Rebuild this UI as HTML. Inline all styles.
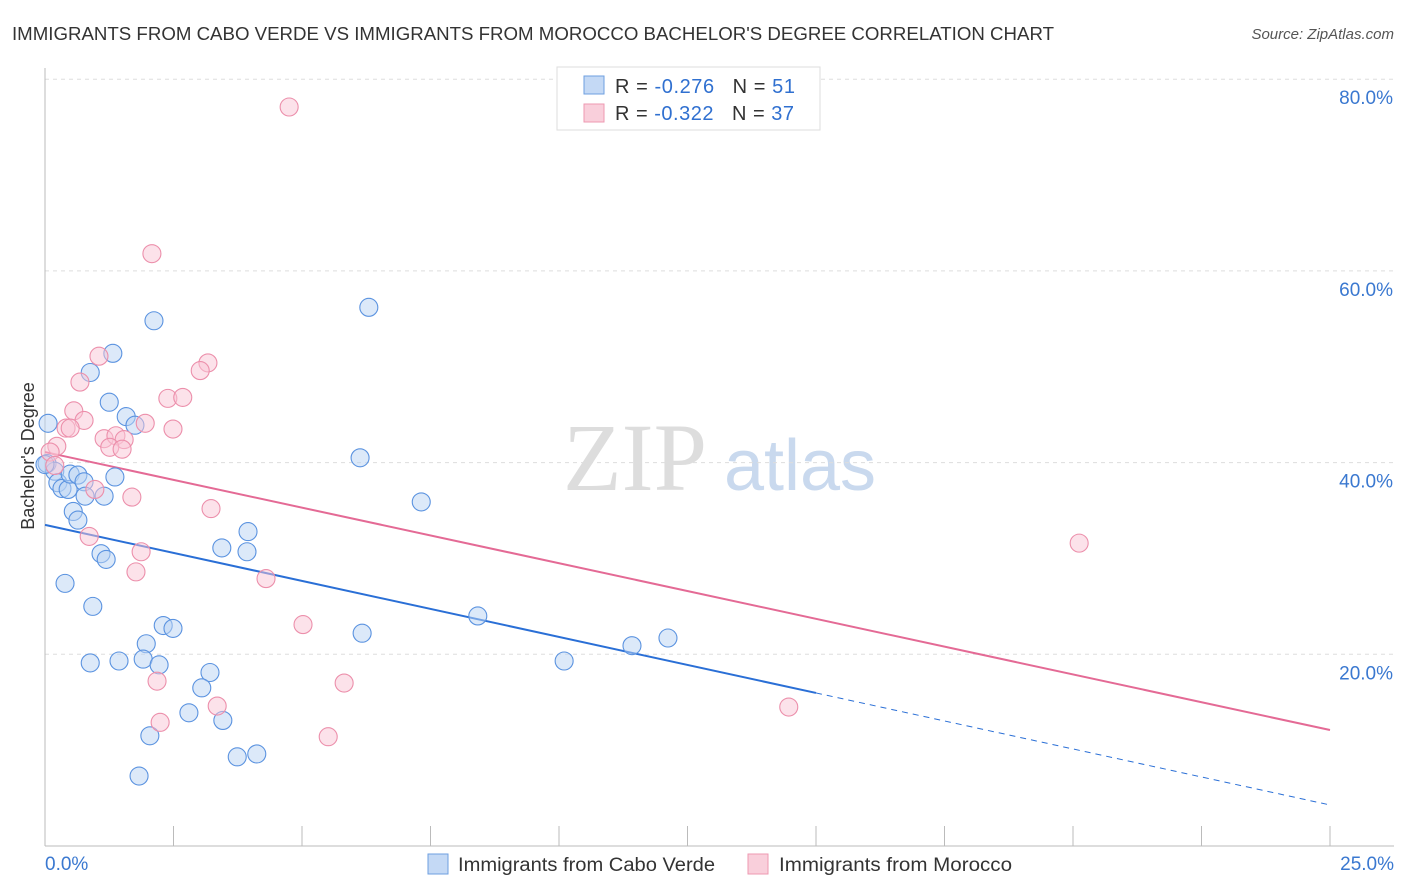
<!DOCTYPE html>
<html><head><meta charset="utf-8"><style>
body{margin:0;background:#fff;font-family:"Liberation Sans",sans-serif}
svg{display:block}
</style></head><body>
<svg width="1406" height="892">
<text x="12" y="40" font-size="18" fill="#333" textLength="1042" lengthAdjust="spacingAndGlyphs">IMMIGRANTS FROM CABO VERDE VS IMMIGRANTS FROM MOROCCO BACHELOR'S DEGREE CORRELATION CHART</text>
<text x="1394" y="39" font-size="15" fill="#555" font-style="italic" text-anchor="end">Source: ZipAtlas.com</text>
<g><text x="635" y="490" font-size="96" fill="#ddd" font-family="Liberation Serif" text-anchor="middle">ZIP</text><text x="800" y="490" font-size="72" fill="#c9d9ee" text-anchor="middle">atlas</text></g>
<g id="grid"></g><g id="axes"></g><g id="lines"></g><g id="pts"></g>
<text transform="translate(34,456) rotate(-90)" font-size="18" fill="#333" text-anchor="middle">Bachelor's Degree</text>
<g>
<rect x="557" y="67" width="263" height="63" fill="#fff" stroke="#ddd"/>
<rect x="584" y="76" width="20" height="18" fill="#c4d9f5" stroke="#6e9fe0"/>
<rect x="584" y="104" width="20" height="18" fill="#f9cfdb" stroke="#ee98b2"/>
<text x="615" y="93" font-size="20" fill="#333" textLength="180" lengthAdjust="spacing">R = <tspan fill="#3070d0">-0.276</tspan><tspan dx="18">N = </tspan><tspan fill="#3070d0">51</tspan></text>
<text x="615" y="120" font-size="20" fill="#333" textLength="179" lengthAdjust="spacing">R = <tspan fill="#3070d0">-0.322</tspan><tspan dx="18">N = </tspan><tspan fill="#3070d0">37</tspan></text>
</g>
<g>
<rect x="428" y="854" width="20" height="20" fill="#c4d9f5" stroke="#6e9fe0"/>
<text x="458" y="871" font-size="19" fill="#333" textLength="257" lengthAdjust="spacingAndGlyphs">Immigrants from Cabo Verde</text>
<rect x="748" y="854" width="20" height="20" fill="#f9cfdb" stroke="#ee98b2"/>
<text x="779" y="871" font-size="19" fill="#333" textLength="233" lengthAdjust="spacingAndGlyphs">Immigrants from Morocco</text>
</g>
</svg>
<script>
const xTicks=[0,2.5,5,7.5,10,12.5,15,17.5,20,22.5,25];
const yTicks=[20,40,60,80];
const blueX=[0.06,0.04,0.19,0.25,0.33,0.45,0.55,0.64,0.49,0.64,0.76,0.78,1.15,1.36,0.39,0.93,1.09,1.19,0.88,1.44,0.88,1.32,1.25,1.58,1.75,2.12,6.3,6.13,7.32,3.95,3.44,3.93,2.3,2.49,1.97,1.91,2.22,3.21,3.05,2.8,3.46,2.04,1.83,3.74,4.12,6.17,8.42,10.1,11.42,12.12,0];
const blueY=[44.1,39.9,39.1,37.9,37.3,37.2,34.9,34,38.8,38.7,38,36.5,36.5,38.5,27.4,25,30.5,29.9,19.1,19.3,49.4,51.4,46.3,44.8,43.9,54.8,56.2,40.5,35.9,32.8,31.1,30.7,23,22.7,21.1,19.5,18.9,18.1,16.5,13.9,13.1,11.5,7.3,9.3,9.6,22.2,24,19.3,20.9,21.7,39.8];
const pinkX=[4.75,2.08,1.05,3.17,3.02,0.68,0.56,0.76,2.39,2.68,0.41,0.49,1.95,2.49,1.15,1.38,1.54,1.26,1.5,0.23,0.1,0.19,0.97,1.69,3.23,0.86,1.87,1.77,4.3,5.02,2.18,5.82,3.35,2.24,5.51,20.12,14.47];
const pinkY=[77.1,61.8,51.1,50.4,49.6,48.4,45.4,44.4,46.7,46.8,43.6,43.6,44.1,43.5,42.5,42.8,42.4,41.6,41.4,41.7,41.1,39.7,37.2,36.4,35.2,32.3,30.7,28.6,27.9,23.1,17.2,17,14.6,12.9,11.4,31.6,14.5];
const blueTrend=[33.5,4.28], pinkTrend=[41.1,12.1], blueSolidEnd=15;
const NS="http://www.w3.org/2000/svg";
const X=v=>45+v/25*1285, Y=v=>846-v*9.585;
function mk(tag,at,parent){const e=document.createElementNS(NS,tag);for(const k in at)e.setAttribute(k,at[k]);document.getElementById(parent).appendChild(e);return e;}
yTicks.forEach(t=>{
 const g=mk('line',{x1:45,x2:1394,y1:Y(t),y2:Y(t),stroke:'#ddd','stroke-dasharray':'4,4'},'grid');
 
 
 const l=mk('text',{x:1393,y:Y(t)+25,'font-size':19,fill:'#3a78d0','text-anchor':'end'},'grid');
 l.textContent=t.toFixed(1)+'%';
 
 
});
const ax=mk('line',{x1:45,x2:45,y1:68,y2:846,stroke:'#bbb'},'axes');


const bx=mk('line',{x1:45,x2:1394,y1:846,y2:846,stroke:'#bbb'},'axes');


xTicks.forEach(t=>{
 const k=mk('line',{x1:X(t),x2:X(t),y1:826,y2:846,stroke:'#bbb'},'axes');
 
 
});
[[0,'start',45],[25,'end',1394]].forEach(([t,a,px])=>{
 const l=mk('text',{x:px,y:870,'font-size':19,fill:'#3a78d0','text-anchor':a},'axes');
 l.textContent=t.toFixed(1)+'%';
 
 
});
const yb=x=>blueTrend[0]+(blueTrend[1]-blueTrend[0])*x/25, yp=x=>pinkTrend[0]+(pinkTrend[1]-pinkTrend[0])*x/25;
function pts(xs,ys,fill,stroke,name){xs.forEach((x,i)=>{
 const c=mk('circle',{cx:X(x),cy:Y(ys[i]),r:9,fill:fill,'fill-opacity':0.5,stroke:stroke,'stroke-width':1.1},'pts');
 
 
});}
pts(blueX,blueY,'#b9d3f3','#5b93e0','cabo-verde-point');
pts(pinkX,pinkY,'#f9c5d5','#ec8fab','morocco-point');
let l1=mk('line',{x1:X(0),y1:Y(yb(0)),x2:X(blueSolidEnd),y2:Y(yb(blueSolidEnd)),stroke:'#2a6fd6','stroke-width':2},'lines');


let l2=mk('line',{x1:X(blueSolidEnd),y1:Y(yb(blueSolidEnd)),x2:X(25),y2:Y(yb(25)),stroke:'#2a6fd6','stroke-width':1,'stroke-dasharray':'6,5'},'lines');


let l3=mk('line',{x1:X(0),y1:Y(yp(0)),x2:X(25),y2:Y(yp(25)),stroke:'#e46a95','stroke-width':2},'lines');


</script>
</body></html>
